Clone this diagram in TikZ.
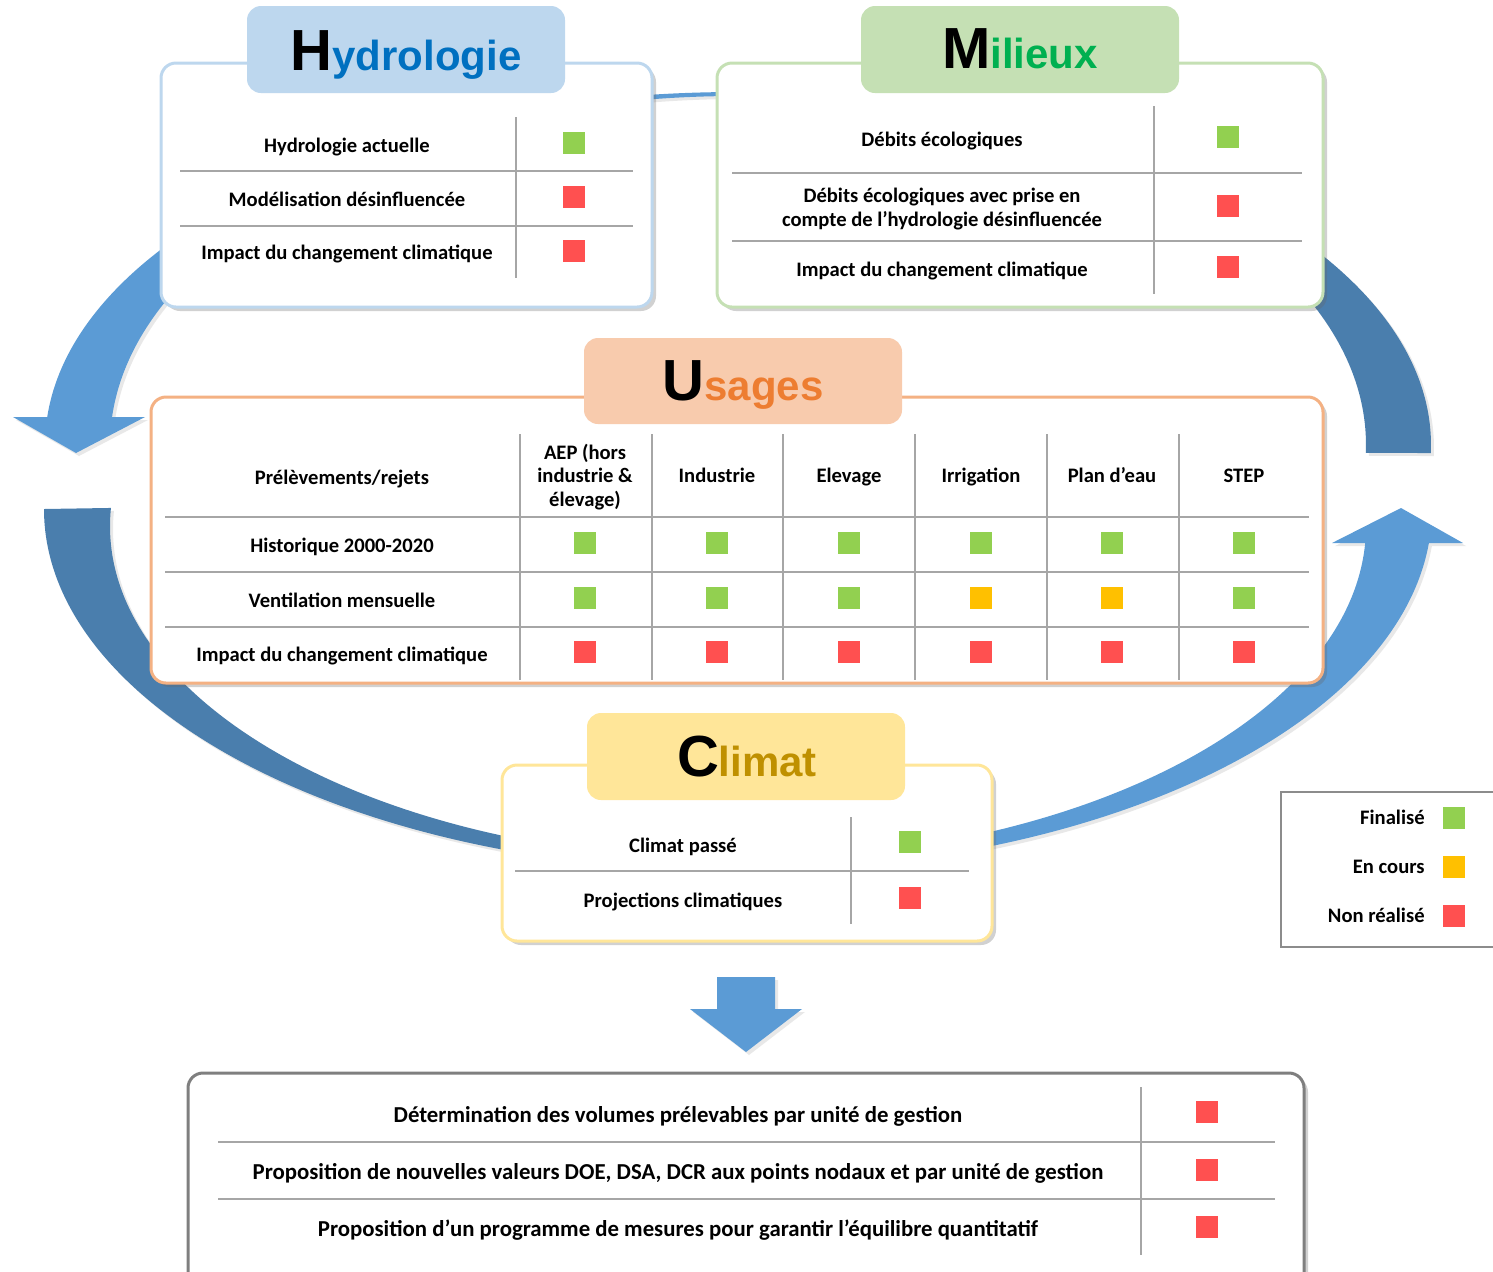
\documentclass[tikz,border=0pt]{standalone}
\usepackage{fontspec}
\setmainfont{Carlito}
\newfontfamily\titlefont{Liberation Sans}
\usetikzlibrary{calc,positioning,shadows}

\definecolor{hydline}{HTML}{BDD7EE}
\definecolor{hydtxt}{HTML}{0070C0}
\definecolor{milline}{HTML}{C5E0B4}
\definecolor{miltxt}{HTML}{00B050}
\definecolor{usaline}{HTML}{F4B183}
\definecolor{usatab}{HTML}{F8CBAD}
\definecolor{usatxt}{HTML}{ED7D31}
\definecolor{climline}{HTML}{FFE699}
\definecolor{climtxt}{HTML}{BF9000}
\definecolor{botline}{HTML}{7F7F7F}
\definecolor{arclight}{HTML}{5B9BD5}
\definecolor{arcdark}{HTML}{4A7EAD}
\definecolor{fini}{HTML}{92D050}
\definecolor{encours}{HTML}{FFC000}
\definecolor{nonfait}{HTML}{FF5050}
\definecolor{rule}{HTML}{A6A6A6}

\newcommand{\cellfont}{\fontsize{10.3}{11.8}\selectfont\bfseries}
\newcommand{\botfont}{\fontsize{11.4}{13}\selectfont\bfseries}
\newcommand{\titre}[3]{{\titlefont\bfseries\fontsize{29}{30}\selectfont #1}{\titlefont\bfseries\fontsize{21}{24}\selectfont\color{#3}#2}}

\begin{document}
\begin{tikzpicture}[x=0.5pt, y=-0.5pt,
    box/.style={line width=1.5pt, fill=white, rounded corners=7.5pt,
      drop shadow={shadow xshift=2pt, shadow yshift=-2pt, opacity=0.3, fill=black!60}},
    tab/.style={rounded corners=7pt},
    title/.style={anchor=base, inner sep=0pt},
    cell/.style={font=\cellfont, anchor=base, inner sep=0pt},
    botcell/.style={cell, font=\botfont},
    stat/.style={minimum size=11pt, inner sep=0pt, fill=#1},
    sep/.style={draw=rule, line width=0.8pt},
    arcshadow/.style={drop shadow={shadow xshift=1.5pt, shadow yshift=-1.5pt, opacity=0.15, fill=black!60}}
  ]
  \useasboundingbox (0,0) rectangle (1493,1271);

  % --- Ellipse centres of the cycle ---
  \coordinate (Ctop) at (738,445);
  \coordinate (Cbot) at (738,509);
  \coordinate (Cboti) at (738,526);

  % --- Cycle arrows ---
  \fill[arclight, arcshadow] ($(Ctop)+(274:693 and 353)$)
    arc[start angle=274, end angle=184.55, x radius=693, y radius=353]
    -- (13,417) -- (76,453) -- (145,417)
    -- ($(Ctop)+(184.6:628 and 349)$)
    arc[start angle=184.6, end angle=274, x radius=628, y radius=349] -- cycle;
  \fill[arcdark, arcshadow] ($(Cbot)+(180:694 and 362)$)
    arc[start angle=180, end angle=95, x radius=694, y radius=362]
    -- ($(Cboti)+(95:628 and 334)$)
    arc[start angle=95, end angle=183.1, x radius=628, y radius=334] -- cycle;
  \fill[arclight, arcshadow] ($(Cbot)+(85:694 and 362)$)
    arc[start angle=85, end angle=5.39, x radius=694, y radius=362]
    -- (1463,543) -- (1401,508) -- (1332,543)
    -- ($(Cboti)+(2.92:628 and 334)$)
    arc[start angle=2.92, end angle=85, x radius=628, y radius=334] -- cycle;
  \fill[arcdark, arcshadow] ($(Ctop)+(276:693 and 353)$)
    arc[start angle=276, end angle=361.3, x radius=693, y radius=353]
    -- ($(Ctop)+(361.3:628 and 349)$)
    arc[start angle=361.3, end angle=276, x radius=628, y radius=349] -- cycle;

  % --- Hydrologie ---
  \draw[box, draw=hydline] (161,63) rectangle (652,307);
  \fill[tab, hydline] (247,6) rectangle (565,93);
  \node[title] (hydT) at (406,70) {\titre{H}{ydrologie}{hydtxt}};
  \draw[sep] (516,117) -- (516,278);
  \draw[sep] (180,171) -- (633,171);
  \draw[sep] (180,226) -- (633,226);
  \node[cell] (hyd1) at (347,152) {Hydrologie actuelle};
  \node[cell] (hyd2) at (347,206) {Modélisation désinfluencée};
  \node[cell] (hyd3) at (347,259) {Impact du changement climatique};
  \node[stat=fini] (hydS1) at (574,143) {};
  \node[stat=nonfait] (hydS2) at (574,197) {};
  \node[stat=nonfait] (hydS3) at (574,251) {};

  % --- Milieux ---
  \draw[box, draw=milline] (717,63) rectangle (1323,307);
  \fill[tab, milline] (861,6) rectangle (1179,93);
  \node[title] (milT) at (1020,68) {\titre{M}{ilieux}{miltxt}};
  \draw[sep] (1154,106) -- (1154,294);
  \draw[sep] (732,173) -- (1302,173);
  \draw[sep] (732,241) -- (1302,241);
  \node[cell] (mil1) at (942,146) {Débits écologiques};
  \node[cell, anchor=center, align=center] (mil2) at (942,209)
    {Débits écologiques avec prise en\\compte de l’hydrologie désinfluencée};
  \node[cell] (mil3) at (942,276) {Impact du changement climatique};
  \node[stat=fini] (milS1) at (1228,137) {};
  \node[stat=nonfait] (milS2) at (1228,206) {};
  \node[stat=nonfait] (milS3) at (1228,267) {};

  % --- Usages ---
  \draw[box, draw=usaline] (151,397) rectangle (1323,683);
  \fill[tab, usatab] (584,338) rectangle (902,424);
  \node[title] (usaT) at (743,400) {\titre{U}{sages}{usatxt}};
  \foreach \lx in {520,652,783,915,1047,1179}
    \draw[sep] (\lx,434) -- (\lx,680);
  \foreach \ly in {517,572,627}
    \draw[sep] (165,\ly) -- (1309,\ly);
  \node[cell] (usa0) at (342,484) {Prélèvements/rejets};
  \node[cell, anchor=center, align=center] (usaC1) at (585,477) {AEP (hors\\industrie \&\\élevage)};
  \node[cell] (usaC2) at (717,482) {Industrie};
  \node[cell] (usaC3) at (849,482) {Elevage};
  \node[cell] (usaC4) at (981,482) {Irrigation};
  \node[cell] (usaC5) at (1112,482) {Plan d’eau};
  \node[cell] (usaC6) at (1244,482) {STEP};
  \node[cell] (usa1) at (342,552) {Historique 2000-2020};
  \node[cell] (usa2) at (342,607) {Ventilation mensuelle};
  \node[cell] (usa3) at (342,661) {Impact du changement climatique};
  \foreach \cx [count=\i] in {585,717,849,981,1112,1244} {
    \node[stat=fini] (usaH\i) at (\cx,543) {};
    \node[stat=nonfait] (usaI\i) at (\cx,652) {};
  }
  \foreach \cx/\st [count=\i] in {585/fini,717/fini,849/fini,981/encours,1112/encours,1244/fini}
    \node[stat=\st] (usaV\i) at (\cx,598) {};

  % --- Climat ---
  \draw[box, draw=climline] (502,765) rectangle (992,941);
  \fill[tab, climline] (587,713) rectangle (905,800);
  \node[title] (cliT) at (747,776) {\titre{C}{limat}{climtxt}};
  \draw[sep] (851,817) -- (851,924);
  \draw[sep] (515,871) -- (969,871);
  \node[cell] (cli1) at (683,852) {Climat passé};
  \node[cell] (cli2) at (683,907) {Projections climatiques};
  \node[stat=fini] (cliS1) at (910,842) {};
  \node[stat=nonfait] (cliS2) at (910,898) {};

  % --- Legende ---
  \draw[draw=black!45, line width=0.6pt, fill=white] (1281,792) rectangle (1510,947);
  \node[cell, anchor=base east] (leg1) at (1425,824) {Finalisé};
  \node[cell, anchor=base east] (leg2) at (1425,873) {En cours};
  \node[cell, anchor=base east] (leg3) at (1425,922) {Non réalisé};
  \node[stat=fini] (legS1) at (1454,818) {};
  \node[stat=encours] (legS2) at (1454,867) {};
  \node[stat=nonfait] (legS3) at (1454,916) {};

  % --- Fleche vers la synthese ---
  \fill[arclight, arcshadow] (717,977) -- (775,977) -- (775,1009) -- (802,1009)
    -- (746,1052) -- (690,1009) -- (717,1009) -- cycle;

  % --- Synthese ---
  \draw[box, draw=botline] (188,1073) rectangle (1304,1295);
  \draw[sep] (1141,1087) -- (1141,1255);
  \draw[sep] (218,1142) -- (1275,1142);
  \draw[sep] (218,1199) -- (1275,1199);
  \node[botcell] (bot1) at (678,1122) {Détermination des volumes prélevables par unité de gestion};
  \node[botcell] (bot2) at (678,1179) {Proposition de nouvelles valeurs DOE, DSA, DCR aux points nodaux et par unité de gestion};
  \node[botcell] (bot3) at (678,1236) {Proposition d’un programme de mesures pour garantir l’équilibre quantitatif};
  \node[stat=nonfait] (botS1) at (1207,1112) {};
  \node[stat=nonfait] (botS2) at (1207,1170) {};
  \node[stat=nonfait] (botS3) at (1207,1227) {};
\end{tikzpicture}
\end{document}
